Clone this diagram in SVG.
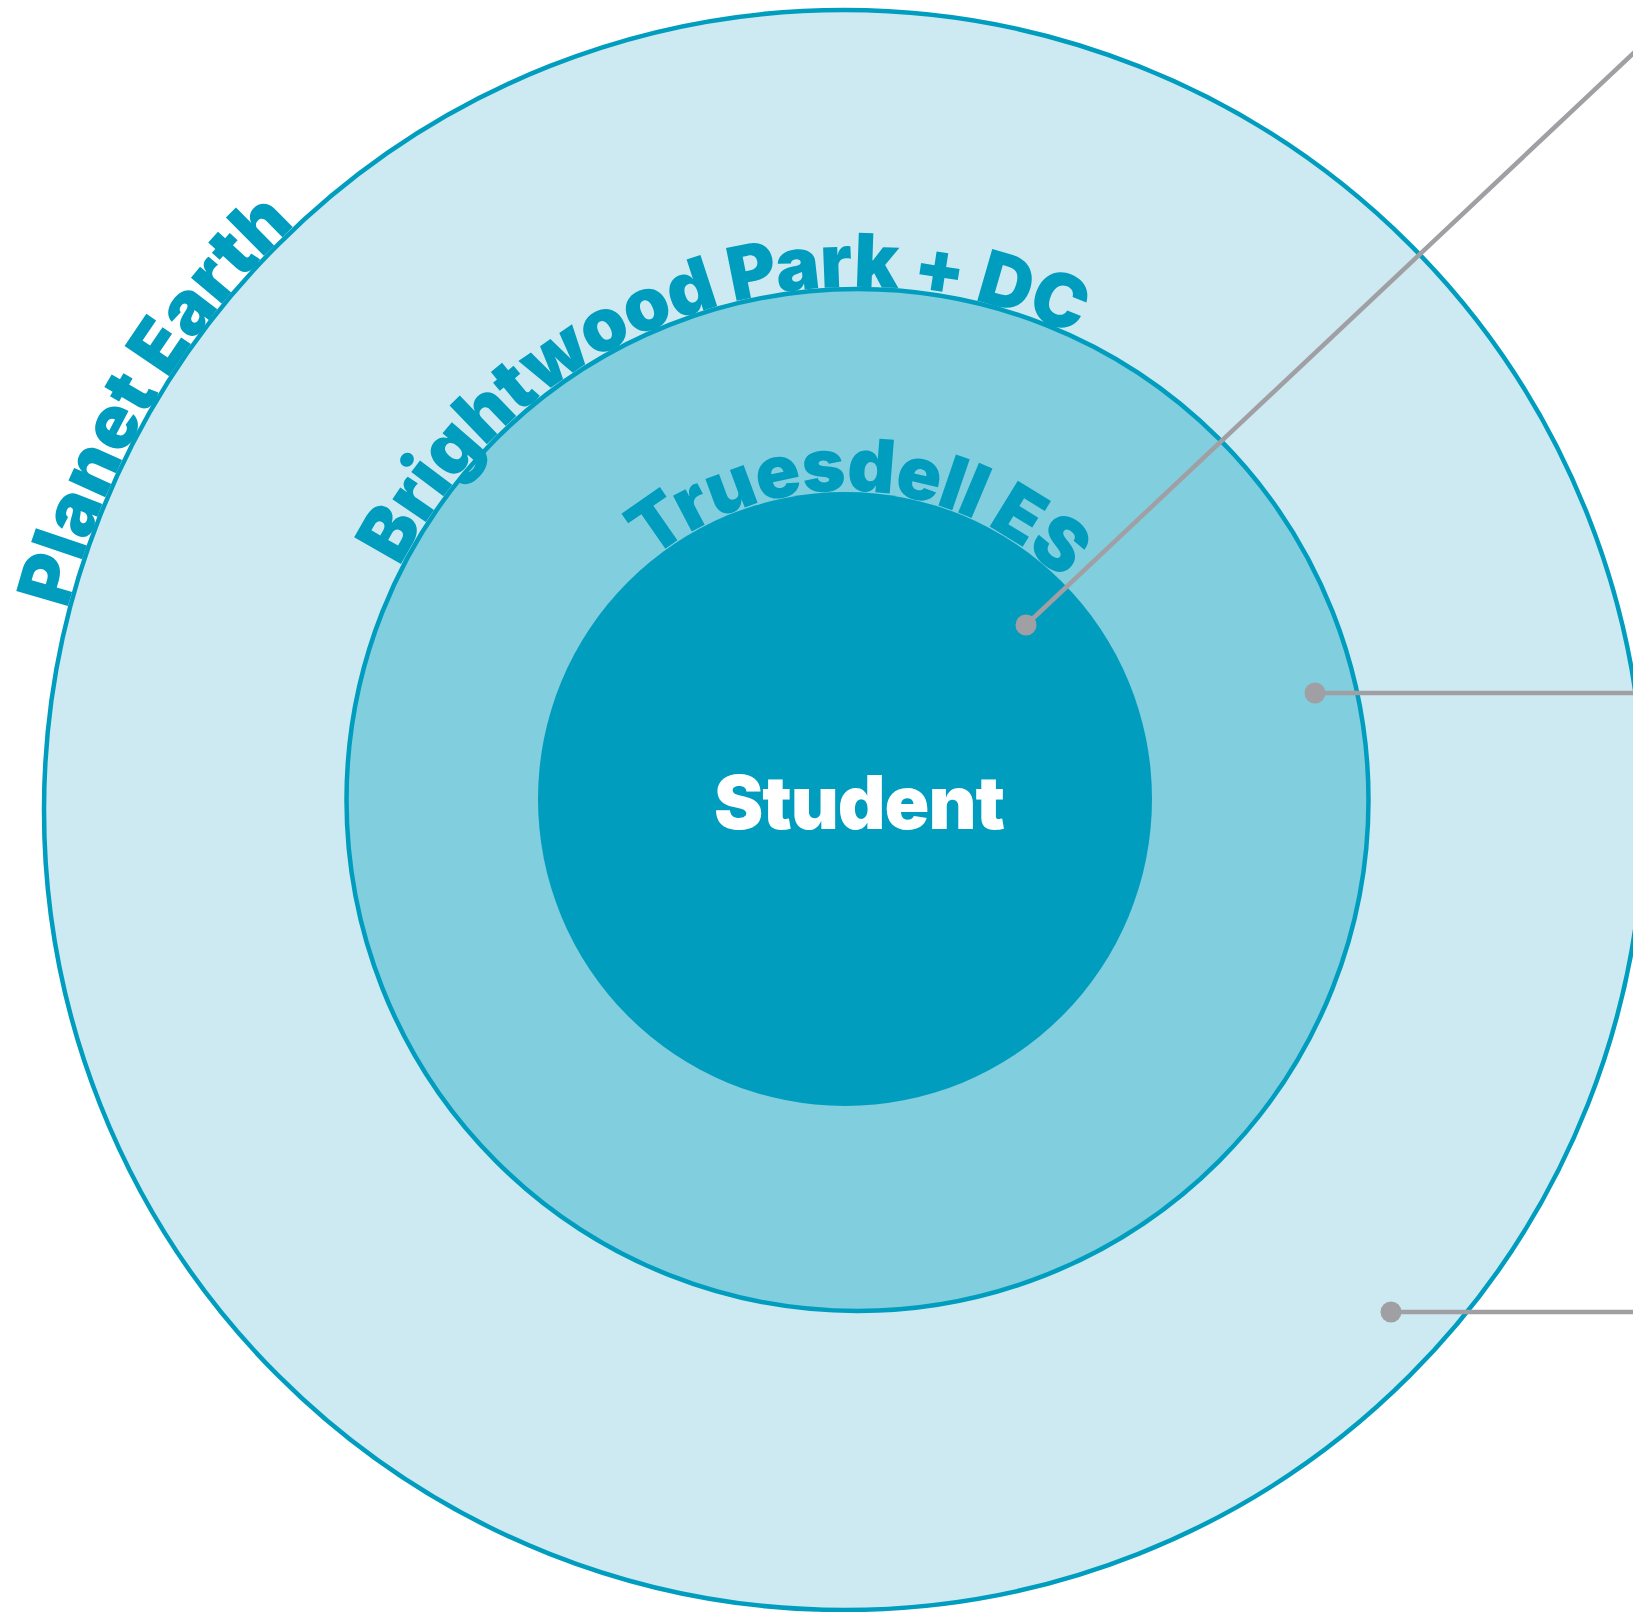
<svg xmlns="http://www.w3.org/2000/svg" width="1633" height="1612" viewBox="0 0 1633 1612">
<style>
.ring{stroke:#009dbf;stroke-width:4.5}
.lbl{font-family:Inter,Roboto,"Open Sans","Liberation Sans",sans-serif;font-weight:900;font-size:74px;fill:#009dbf;letter-spacing:-1px}
.conn{stroke:#a0a0a4;stroke-width:4.5;fill:none}
.dot{fill:#a0a0a4}
</style>
<defs>
<path id="pEarth" d="M67.5,609.2 A802,802 0 0 1 1245,115.5"/>
<path id="pBright" d="M399.9,567.1 A513,513 0 0 1 1339.1,624.6"/>
<path id="pTrues" d="M651.2,559.6 A308,308 0 0 1 1134.4,693.7"/>
</defs>
<rect width="1633" height="1612" fill="#ffffff"/>
<g id="node-planet-earth">
<circle class="ring" cx="844" cy="810" r="800" fill="#cdeaf2"/>
<text class="lbl" style="letter-spacing:0px"><textPath href="#pEarth">Planet Earth</textPath></text>
</g>
<g id="node-brightwood">
<circle class="ring" cx="857.5" cy="800" r="511" fill="#81cede"/>
<text class="lbl"><textPath href="#pBright">Brightwood Park + DC</textPath></text>
</g>
<g id="node-truesdell">
<circle cx="845" cy="799" r="307" fill="#009dbf"/>
<text class="lbl"><textPath href="#pTrues">Truesdell ES</textPath></text>
</g>
<g id="node-student">
<text class="lbl" x="859" y="829" text-anchor="middle" style="fill:#ffffff">Student</text>
</g>
<g id="connectors">
<line class="conn" x1="1026" y1="625" x2="1640" y2="47"/>
<circle class="dot" cx="1026" cy="625" r="10.5"/>
<line class="conn" x1="1315" y1="693" x2="1640" y2="693"/>
<circle class="dot" cx="1315" cy="693" r="10.5"/>
<line class="conn" x1="1391" y1="1312" x2="1640" y2="1312"/>
<circle class="dot" cx="1391" cy="1312" r="10.5"/>
</g>
</svg>
